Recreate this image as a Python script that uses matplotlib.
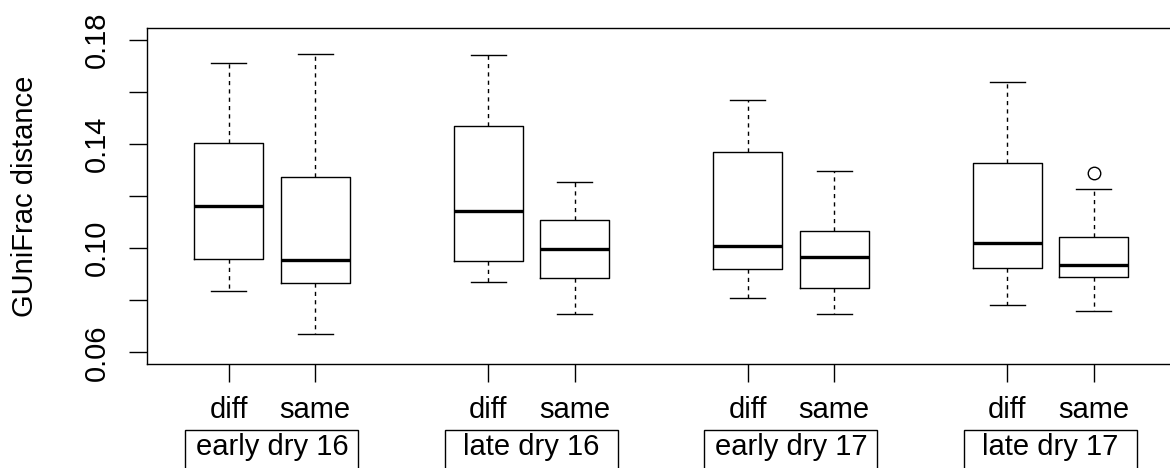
import matplotlib
matplotlib.use("Agg")
import matplotlib.pyplot as plt
from matplotlib.patches import Rectangle
from matplotlib.transforms import blended_transform_factory

plt.rcParams["font.family"] = ["Liberation Sans", "DejaVu Sans"]

# Box-plot summaries: GUniFrac distance for sample pairs by season
groups = ["early dry 16", "late dry 16", "early dry 17", "late dry 17"]
kinds = ["diff", "same"]
whislo = [0.0837, 0.0670, 0.0871, 0.0747, 0.0807, 0.0747, 0.0783, 0.0760]
q1 = [0.0960, 0.0865, 0.0950, 0.0884, 0.0919, 0.0848, 0.0925, 0.0889]
med = [0.1162, 0.0955, 0.1143, 0.0996, 0.1007, 0.0966, 0.1020, 0.0937]
q3 = [0.1403, 0.1275, 0.1470, 0.1107, 0.1369, 0.1066, 0.1327, 0.1043]
whishi = [0.1711, 0.1746, 0.1742, 0.1256, 0.1568, 0.1297, 0.1640, 0.1226]
fliers = [[], [], [], [], [], [], [], [0.1288]]
yticks = [0.06, 0.08, 0.10, 0.12, 0.14, 0.16, 0.18]
ytick_labels = ["0.06", "", "0.10", "", "0.14", "", "0.18"]

W, H, DPI = 1170, 468, 100
fig = plt.figure(figsize=(W / DPI, H / DPI), dpi=DPI)
ax = fig.add_axes([147 / W, 1 - 364.3 / H, (1175 - 147) / W, (364.3 - 28.3) / H])

positions = []
labels = []
for g in range(len(groups)):
    for k, kind in enumerate(kinds):
        positions.append(3 * g + k + 1)
        labels.append(kind)

stats = []
for i in range(len(positions)):
    stats.append(dict(whislo=whislo[i], q1=q1[i], med=med[i], q3=q3[i],
                      whishi=whishi[i], fliers=fliers[i], label=labels[i]))

lw = 1.0
ax.bxp(stats, positions=positions, widths=0.8, capwidths=0.4,
       boxprops=dict(color="black", linewidth=lw),
       whiskerprops=dict(color="black", linewidth=lw, linestyle=(0, (3, 3))),
       capprops=dict(color="black", linewidth=lw),
       medianprops=dict(color="black", linewidth=2.4, solid_capstyle="butt"),
       flierprops=dict(marker="o", markerfacecolor="none", markeredgecolor="black",
                       markersize=9, markeredgewidth=lw),
       manage_ticks=False)

ax.set_xlim(1 - (228.7 - 147) / 86.5, 1 + (1175 - 228.7) / 86.5)
ax.set_ylim(0.06 - 12 / 2602.5, 0.06 + 324 / 2602.5)

ax.set_xticks(positions)
ax.set_xticklabels(labels, fontsize=21)
ax.set_yticks(yticks)
ax.set_yticklabels(ytick_labels, fontsize=21, rotation=90, va="center")
ax.tick_params(axis="both", direction="out", length=13, width=lw, color="black")
ax.tick_params(axis="x", pad=10)
ax.tick_params(axis="y", pad=13)
for s in ax.spines.values():
    s.set_linewidth(lw)
    s.set_color("black")

fig.text(25 / W, 1 - 196.3 / H, "GUniFrac distance", rotation=90,
         ha="center", va="center", fontsize=21)

# Framed season labels below each pair of boxes
trans = blended_transform_factory(ax.transData, fig.transFigure)
for g, name in enumerate(groups):
    cx = 3 * g + 1.5
    ax.add_patch(Rectangle((cx - 1.0, 1 - 480 / H), 2.0, 50 / H, transform=trans,
                           fill=False, edgecolor="black", linewidth=lw, clip_on=False))
    ax.text(cx, 1 - 455 / H, name, transform=trans, ha="center", va="baseline",
            fontsize=21)

fig.savefig("out.png", dpi=DPI)
